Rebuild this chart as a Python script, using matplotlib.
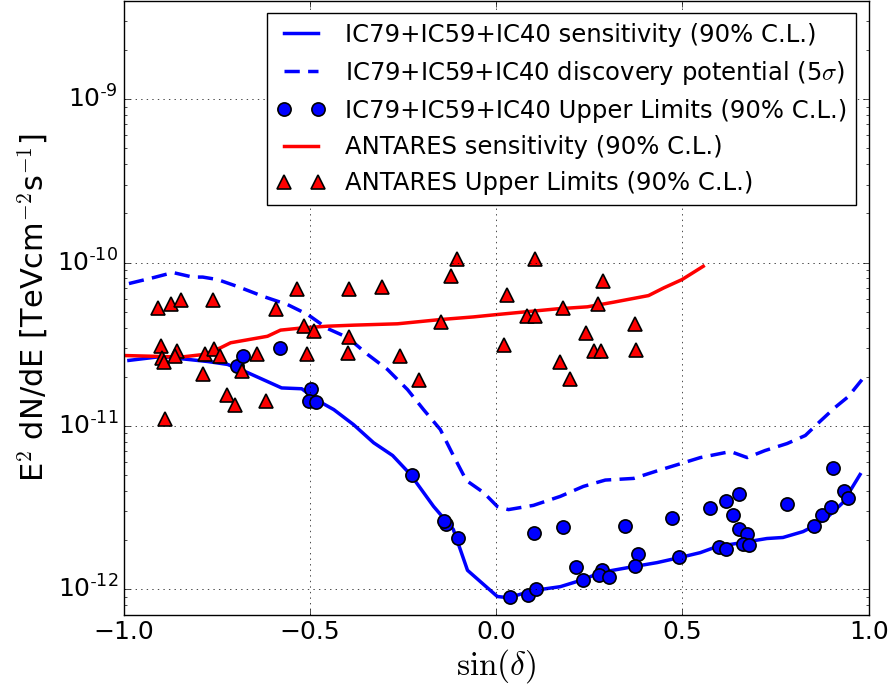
import numpy as np
import matplotlib
matplotlib.use("Agg")
import matplotlib.pyplot as plt
from matplotlib.ticker import FixedLocator, FuncFormatter

plt.style.use("classic")
plt.rcParams["mathtext.fontset"] = "cm"

# IceCube sensitivity (90% C.L.)
ic_sens_x = [-0.986, -0.900, -0.774, -0.721, -0.667, -0.576, -0.522, -0.479, -0.436, -0.383,
             -0.329, -0.278, -0.230, -0.168, -0.115, -0.077, 0.003, 0.033, 0.100, 0.172,
             0.234, 0.280, 0.369, 0.432, 0.494, 0.548, 0.593, 0.663, 0.727, 0.770,
             0.824, 0.851, 0.888, 0.931, 0.977]
ic_sens_y = [2.52e-11, 2.66e-11, 2.48e-11, 2.38e-11, 2.12e-11, 1.71e-11, 1.69e-11, 1.43e-11, 1.26e-11, 1.02e-11,
             7.9e-12, 6.6e-12, 5.05e-12, 3.22e-12, 2.33e-12, 1.31e-12, 9.06e-13, 8.9e-13, 9.86e-13, 1.04e-12,
             1.15e-12, 1.27e-12, 1.38e-12, 1.46e-12, 1.57e-12, 1.68e-12, 1.83e-12, 1.94e-12, 2.05e-12, 2.08e-12,
             2.26e-12, 2.43e-12, 2.75e-12, 3.40e-12, 5.05e-12]

# IceCube discovery potential (5 sigma)
ic_disc_x = [-0.986, -0.919, -0.868, -0.815, -0.788, -0.748, -0.694, -0.624, -0.560, -0.506,
             -0.453, -0.399, -0.345, -0.292, -0.238, -0.195, -0.150, -0.115, -0.080, -0.034,
             0.003, 0.033, 0.100, 0.172, 0.234, 0.293, 0.369, 0.436, 0.497, 0.548,
             0.629, 0.674, 0.722, 0.781, 0.830, 0.870, 0.910, 0.945, 0.982]
ic_disc_y = [7.44e-11, 8.10e-11, 8.69e-11, 8.15e-11, 8.15e-11, 7.87e-11, 7.13e-11, 6.19e-11, 5.53e-11, 4.81e-11,
             3.95e-11, 3.48e-11, 2.74e-11, 2.22e-11, 1.67e-11, 1.26e-11, 9.52e-12, 6.6e-12, 4.64e-12, 3.92e-12,
             3.22e-12, 3.08e-12, 3.27e-12, 3.71e-12, 4.27e-12, 4.67e-12, 4.78e-12, 5.35e-12, 5.90e-12, 6.41e-12,
             6.98e-12, 6.41e-12, 7.08e-12, 7.81e-12, 8.75e-12, 1.07e-11, 1.30e-11, 1.51e-11, 1.92e-11]

# IceCube upper limits (90% C.L.)
ic_ul_x = [-0.695, -0.681, -0.581, -0.497, -0.503, -0.483, -0.226, -0.136, -0.141, -0.102,
           0.036, 0.086, 0.108, 0.101, 0.180, 0.215, 0.233, 0.284, 0.277, 0.304,
           0.345, 0.381, 0.374, 0.472, 0.492, 0.575, 0.597, 0.616, 0.616, 0.651,
           0.637, 0.653, 0.673, 0.662, 0.680, 0.781, 0.853, 0.874, 0.899, 0.905,
           0.935, 0.945]
ic_ul_y = [2.34e-11, 2.68e-11, 3.00e-11, 1.69e-11, 1.43e-11, 1.40e-11, 5.05e-12, 2.50e-12, 2.61e-12, 2.06e-12,
           8.97e-13, 9.19e-13, 1.0e-12, 2.22e-12, 2.40e-12, 1.37e-12, 1.14e-12, 1.31e-12, 1.22e-12, 1.19e-12,
           2.44e-12, 1.64e-12, 1.39e-12, 2.75e-12, 1.57e-12, 3.16e-12, 1.83e-12, 1.76e-12, 3.47e-12, 3.85e-12,
           2.84e-12, 2.35e-12, 2.17e-12, 1.91e-12, 1.87e-12, 3.34e-12, 2.46e-12, 2.84e-12, 3.20e-12, 5.53e-12,
           4.00e-12, 3.61e-12]

# ANTARES sensitivity (90% C.L.)
ant_sens_x = [-1.0, -0.919, -0.847, -0.785, -0.740, -0.713, -0.614, -0.579, -0.517, -0.453,
              -0.383, -0.265, -0.150, -0.061, 0.003, 0.164, 0.245, 0.315, 0.409, 0.450,
              0.499, 0.556]
ant_sens_y = [2.70e-11, 2.67e-11, 2.64e-11, 2.74e-11, 3.01e-11, 3.23e-11, 3.54e-11, 3.86e-11, 3.99e-11, 4.08e-11,
              4.14e-11, 4.22e-11, 4.48e-11, 4.65e-11, 4.81e-11, 5.21e-11, 5.36e-11, 5.72e-11, 6.28e-11, 7.00e-11,
              7.87e-11, 9.49e-11]

# ANTARES upper limits (90% C.L.)
ant_ul_x = [-0.909, -0.872, -0.847, -0.760, -0.592, -0.536, -0.394, -0.306, -0.120, -0.104,
            -0.516, -0.489, -0.149, -0.394, -0.900, -0.858, -0.896, -0.893, -0.862, -0.782,
            -0.758, -0.741, -0.641, -0.509, -0.399, -0.259, -0.683, -0.786, -0.722, -0.701,
            -0.619, -0.206, -0.889, 0.105, 0.030, 0.022, 0.083, 0.103, 0.179, 0.287,
            0.274, 0.374, 0.240, 0.262, 0.282, 0.376, 0.172, 0.197]
ant_ul_y = [5.24e-11, 5.54e-11, 5.94e-11, 5.94e-11, 5.21e-11, 6.90e-11, 6.90e-11, 7.10e-11, 8.26e-11, 1.05e-10,
            4.07e-11, 3.84e-11, 4.35e-11, 3.49e-11, 3.08e-11, 2.87e-11, 2.61e-11, 2.47e-11, 2.67e-11, 2.74e-11,
            2.94e-11, 2.70e-11, 2.77e-11, 2.74e-11, 2.80e-11, 2.70e-11, 2.18e-11, 2.08e-11, 1.54e-11, 1.34e-11,
            1.42e-11, 1.92e-11, 1.11e-11, 1.05e-10, 6.37e-11, 3.15e-11, 4.70e-11, 4.70e-11, 5.28e-11, 7.69e-11,
            5.54e-11, 4.18e-11, 3.72e-11, 2.86e-11, 2.86e-11, 2.90e-11, 2.46e-11, 1.94e-11]

fig = plt.figure(figsize=(8.9, 6.9), dpi=100)
ax = fig.add_axes([0.139, 0.109, 0.837, 0.890])

ax.plot(ic_sens_x, ic_sens_y, color="blue", lw=2.5,
        label="IC79+IC59+IC40 sensitivity (90% C.L.)")
ax.plot(ic_disc_x, ic_disc_y, color="blue", lw=2.5, dashes=(11, 6),
        label=r"IC79+IC59+IC40 discovery potential (5$\sigma$)")
ax.plot(ic_ul_x, ic_ul_y, "o", color="blue", ms=9.5, mec="black", mew=1.2,
        label="IC79+IC59+IC40 Upper Limits (90% C.L.)")
ax.plot(ant_sens_x, ant_sens_y, color="red", lw=2.5,
        label="ANTARES sensitivity (90% C.L.)")
ax.plot(ant_ul_x, ant_ul_y, "^", color="red", ms=10, mec="black", mew=1.2,
        label="ANTARES Upper Limits (90% C.L.)")

ax.set_yscale("log")
ax.set_xlim(-1.0, 1.0)
ax.set_ylim(7.0e-13, 4.0e-9)
ax.yaxis.set_major_locator(FixedLocator([1e-12, 1e-11, 1e-10, 1e-9]))
ax.yaxis.set_major_formatter(FuncFormatter(
    lambda v, p: r"$\mathregular{10^{\text{-}%d}}$" % round(-np.log10(v))))
ax.set_xticks([-1.0, -0.5, 0.0, 0.5, 1.0])
ax.tick_params(labelsize=18)
ax.grid(True)

ax.set_xlabel(r"$\sin(\delta)$", fontsize=24, labelpad=2)
ax.set_ylabel(r"E$^2$ dN/dE [TeVcm$^{-2}$s$^{-1}$]", fontsize=22)

ax.legend(loc="upper right", numpoints=2, fontsize=17.5)

fig.savefig("out.png", dpi=100)
